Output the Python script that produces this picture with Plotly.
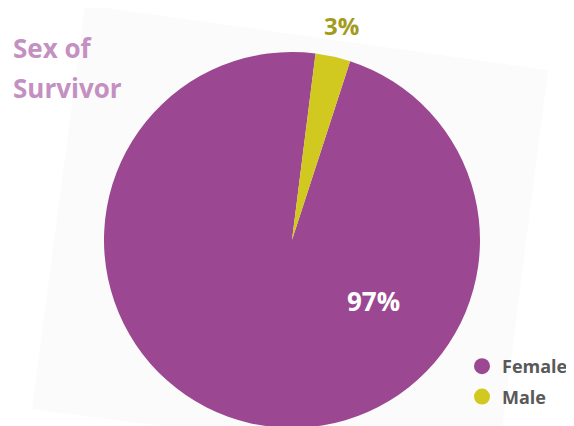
import plotly.graph_objects as go

categories = ["Female", "Male"]
values = [97, 3]
colors = ["#9c4791", "#d1c91f"]
title_lines = ["Sex of", "Survivor"]

W, H = 574, 426
FONT = "Open Sans"

total = sum(values)
pct = [f"{round(v / total * 100)}%" for v in values]


def px(x):
    return x / W


def py(y):
    return 1 - y / H


fig = go.Figure()
fig.add_trace(go.Pie(
    labels=categories, values=values,
    marker=dict(colors=colors, line=dict(width=0)),
    sort=False, direction="clockwise", rotation=18,
    textinfo="none", hoverinfo="label+percent",
    showlegend=False,
    domain=dict(x=[px(96), px(472)], y=[py(420), py(44)]),
))

# legend entries with circular markers
for c, col in zip(categories, colors):
    fig.add_trace(go.Scatter(
        x=[None], y=[None], mode="markers", name=f"<b>{c}</b>",
        marker=dict(symbol="circle", size=16, color=col),
        legendgroup=c, showlegend=True,
    ))

# faint rotated backdrop
fig.add_shape(type="path", xref="paper", yref="paper",
              path=f"M {px(77)} {py(-3)} L {px(540)} {py(62)} L {px(489)} {py(462)} L {px(24)} {py(401)} Z",
              fillcolor="#fbfbfb", line=dict(width=0), layer="below")

title_font = dict(family=FONT, size=26, color="#c490c1")
ann = [
    dict(text=f"<b>{title_lines[0]}</b>", x=px(3), y=py(40), xanchor="left", yanchor="middle",
         font=title_font),
    dict(text=f"<b>{title_lines[1]}</b>", x=px(3), y=py(80), xanchor="left", yanchor="middle",
         font=title_font),
    dict(text=f"<b>{pct[1]}</b>", x=px(333.5), y=1, xanchor="center", yanchor="top",
         borderpad=0, font=dict(family=FONT, size=24, color="#a39b1b")),
    dict(text=f"<b>{pct[0]}</b>", x=px(365), y=py(293), xanchor="center", yanchor="middle",
         font=dict(family=FONT, size=26, color="#ffffff")),
]
for a in ann:
    a.update(xref="paper", yref="paper", showarrow=False)

fig.update_layout(
    width=W, height=H,
    margin=dict(l=0, r=0, t=0, b=0),
    paper_bgcolor="#ffffff", plot_bgcolor="rgba(0,0,0,0)",
    xaxis=dict(visible=False), yaxis=dict(visible=False),
    annotations=ann,
    legend=dict(x=px(454), y=py(340), xanchor="left", yanchor="top",
                bgcolor="rgba(0,0,0,0)", tracegroupgap=4,
                font=dict(family=FONT, size=18, color="#595959")),
)

fig.write_html("out.html")
